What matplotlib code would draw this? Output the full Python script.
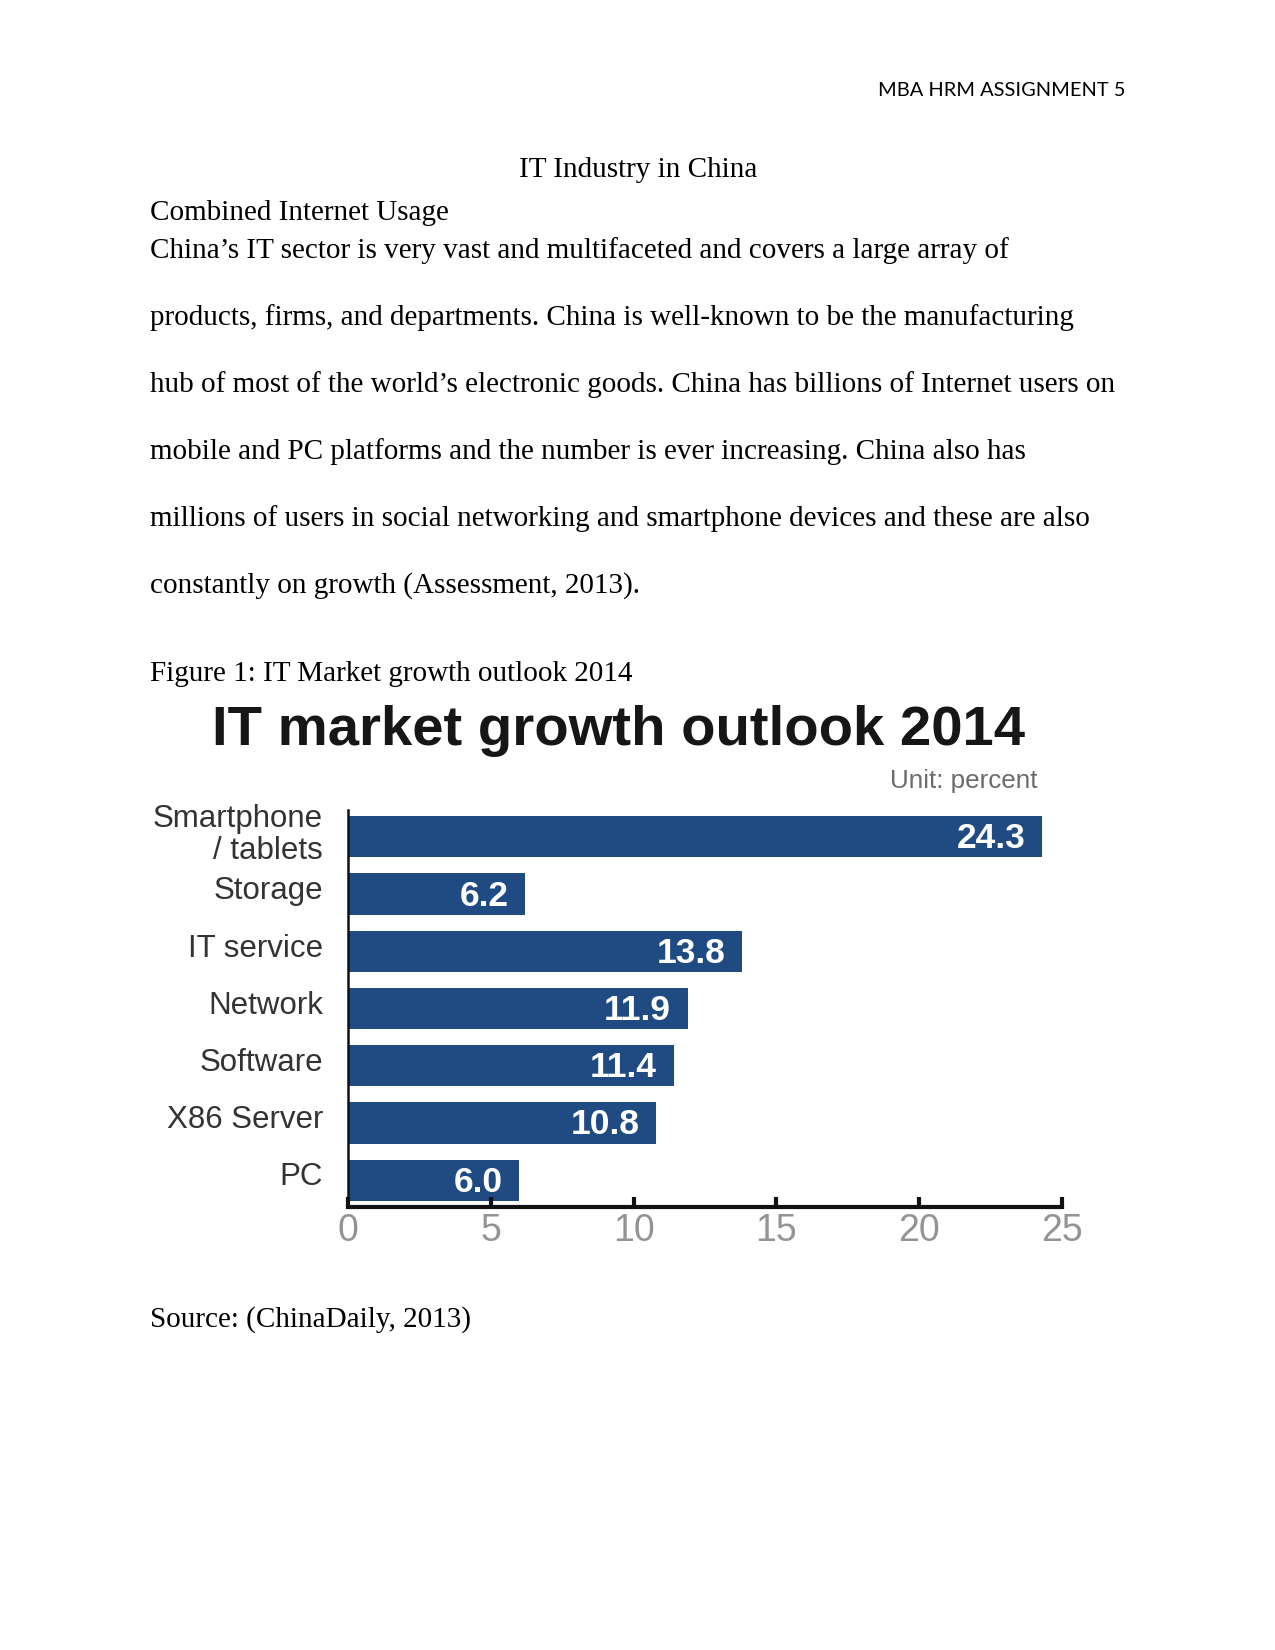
import numpy as np
import matplotlib
matplotlib.use('Agg')
import matplotlib.pyplot as plt
import matplotlib.transforms as mtransforms

# chart data
categories = ['Smartphone\n/ tablets', 'Storage', 'IT service', 'Network',
              'Software', 'X86 Server', 'PC']
values = [24.3, 6.2, 13.8, 11.9, 11.4, 10.8, 6.0]
x_ticks = [0, 5, 10, 15, 20, 25]

# document text
header = 'MBA HRM ASSIGNMENT 5'
doc_title = 'IT Industry in China'
sub_head = 'Combined Internet Usage'
para_lines = [
    'China\u2019s IT sector is very vast and multifaceted and covers a large array of',
    'products, firms, and departments. China is well-known to be the manufacturing',
    'hub of most of the world\u2019s electronic goods. China has billions of Internet users on',
    'mobile and PC platforms and the number is ever increasing. China also has',
    'millions of users in social networking and smartphone devices and these are also',
    'constantly on growth (Assessment, 2013).',
]
fig_caption = 'Figure 1: IT Market growth outlook 2014'
source = 'Source: (ChinaDaily, 2013)'

W, H = 1275, 1650
fig = plt.figure(figsize=(W / 150, H / 150), dpi=150)
fig.patch.set_facecolor('white')

serif = ['Liberation Serif', 'DejaVu Serif']
sans = ['Liberation Sans', 'DejaVu Sans']


def fx(px):
    return px / W


def fy(py):
    return 1 - py / H


# page text
fig.text(fx(1125), fy(90), header, ha='right', va='center',
         fontsize=9.6, family=['Lato', 'DejaVu Sans'])
fig.text(fx(638), fy(170), doc_title, ha='center', va='center',
         fontsize=14, family=serif)
fig.text(fx(150), fy(213), sub_head, ha='left', va='center',
         fontsize=14, family=serif)
line_y = [251, 318, 385, 452, 519, 586]
for y, s in zip(line_y, para_lines):
    fig.text(fx(150), fy(y), s, ha='left', va='center',
             fontsize=14, family=serif)
fig.text(fx(150), fy(674), fig_caption, ha='left', va='center',
         fontsize=14, family=serif)
fig.text(fx(150), fy(1320), source, ha='left', va='center',
         fontsize=14, family=serif)

# chart
fig.text(fx(618), fy(731), 'IT market growth outlook 2014', ha='center',
         va='center', fontsize=27, fontweight='bold', family=sans,
         color='#161616')
fig.text(fx(1038), fy(781), 'Unit: percent', ha='right', va='center',
         fontsize=12.5, family=sans, color='#6b6b6b')

ax = fig.add_axes([fx(348), 1 - 1207 / H, fx(1062) - fx(348), (1207 - 810) / H])
ypos = np.arange(len(categories))[::-1]
bar_color = '#1f4b82'
ax.barh(ypos, values, height=0.72, color=bar_color, edgecolor='none')

for y, v in zip(ypos, values):
    ax.annotate('{:.1f}'.format(v), xy=(v, y), xytext=(-8, -1),
                textcoords='offset points', ha='right', va='center',
                color='white', fontsize=17, fontweight='bold', family=sans)

ax.set_xlim(0, 25)
ax.set_ylim(-0.47, 6.47)
ax.set_yticks(ypos)
ax.set_yticklabels(categories, family=sans, fontsize=15, color='#333333',
                   multialignment='right', linespacing=1.1)
ax.tick_params(axis='y', length=0, pad=12)
# labels sit a little above the bar centres in the original
shift = mtransforms.ScaledTranslation(0, 3 / 72, fig.dpi_scale_trans)
for lab in ax.get_yticklabels():
    lab.set_transform(lab.get_transform() + shift)
ax.set_xticks(x_ticks)
ax.set_xticklabels([str(t) for t in x_ticks], family=sans, fontsize=18,
                   color='#949494')
ax.tick_params(axis='x', direction='in', length=5, width=2, color='#111111',
               pad=3)

for s in ['top', 'right']:
    ax.spines[s].set_visible(False)
ax.spines['bottom'].set_linewidth(2)
ax.spines['bottom'].set_color('#111111')
ax.spines['left'].set_linewidth(1.2)
ax.spines['left'].set_color('#111111')

fig.savefig('out.png', dpi=150, facecolor='white')
